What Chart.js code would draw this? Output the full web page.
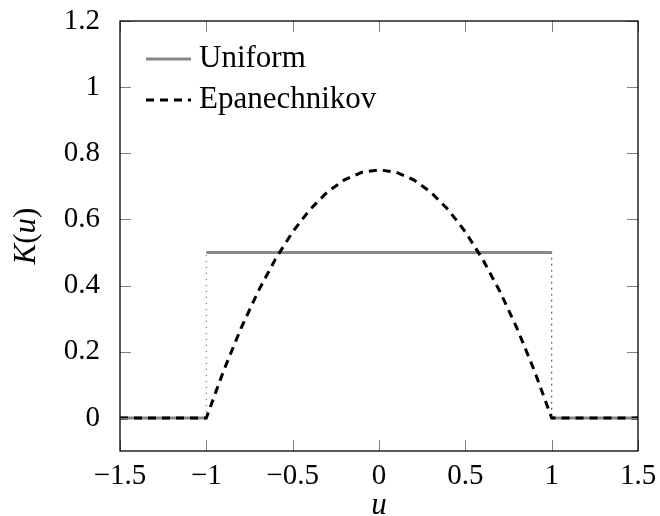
<!DOCTYPE html>
<html><head><meta charset="utf-8">
<script src="https://cdn.jsdelivr.net/npm/chart.js@4/dist/chart.umd.min.js"></script>
<style>html,body{margin:0;padding:0;background:#fff}</style>
</head><body>
<canvas id="c" width="660" height="516"></canvas>
<script>
// ---- data ----
const xTickValues = [-1.5, -1, -0.5, 0, 0.5, 1, 1.5];
const yTickValues = [0, 0.2, 0.4, 0.6, 0.8, 1, 1.2];
const seriesNames = ['Uniform', 'Epanechnikov'];
const uniformU = [-1.5, -1, -1, 1, 1, 1.5];
const uniformK = [0, 0, 0.5, 0.5, 0, 0];
const epanU = [-1.5, -1, -0.9, -0.8, -0.7, -0.6, -0.5, -0.4, -0.3, -0.2, -0.1, 0, 0.1, 0.2, 0.3, 0.4, 0.5, 0.6, 0.7, 0.8, 0.9, 1, 1.5];
const epanK = [0, 0, 0.1425, 0.27, 0.3825, 0.48, 0.5625, 0.63, 0.6825, 0.72, 0.7425, 0.75, 0.7425, 0.72, 0.6825, 0.63, 0.5625, 0.48, 0.3825, 0.27, 0.1425, 0, 0];

const SERIF = "'Liberation Serif', 'DejaVu Serif', serif";
const fmt = v => { const s = String(v); return v < 0 ? '\u2212' + s.slice(1) : s; };
const toPts = (xs, ys) => xs.map((x, i) => ({x, y: ys[i]}));

const framePlugin = {
  id: 'frame',
  afterDatasetsDraw(chart) {
    const {ctx, chartArea: a, scales: {x, y}} = chart;
    ctx.save();
    // inside ticks
    ctx.strokeStyle = '#808080';
    ctx.lineWidth = 1;
    const tl = 11;
    ctx.beginPath();
    x.ticks.forEach(t => {
      const px = Math.round(x.getPixelForValue(t.value)) + 0.5;
      ctx.moveTo(px, a.bottom); ctx.lineTo(px, a.bottom - tl);
      ctx.moveTo(px, a.top); ctx.lineTo(px, a.top + tl);
    });
    y.ticks.forEach(t => {
      const py = Math.round(y.getPixelForValue(t.value)) + 0.5;
      ctx.moveTo(a.left, py); ctx.lineTo(a.left + tl, py);
      ctx.moveTo(a.right, py); ctx.lineTo(a.right - tl, py);
    });
    ctx.stroke();
    // frame
    ctx.strokeStyle = '#000';
    ctx.lineWidth = 1.3;
    ctx.strokeRect(a.left, a.top, a.right - a.left, a.bottom - a.top);
    // legend inside plot
    const lx = a.left + 26, ly = a.top + 38, gap = 41;
    seriesNames.forEach((name, i) => {
      const d = chart.data.datasets.find(ds => ds.label === name);
      const yy = ly + i * gap;
      ctx.strokeStyle = d.borderColor;
      ctx.lineWidth = d.borderWidth;
      ctx.setLineDash(d.borderDash || []);
      ctx.beginPath(); ctx.moveTo(lx, yy); ctx.lineTo(lx + 45, yy); ctx.stroke();
      ctx.setLineDash([]);
      ctx.fillStyle = '#000';
      ctx.font = '31px ' + SERIF;
      ctx.textBaseline = 'alphabetic';
      ctx.textAlign = 'left';
      ctx.fillText(d.label, lx + 53, yy + 8);
    });
    // y axis title K(u) with italic K and u
    const parts = [['K', 'italic'], ['(', 'normal'], ['u', 'italic'], [')', 'normal']];
    let total = 0;
    parts.forEach(p => { ctx.font = p[1] + ' 31px ' + SERIF; p.push(ctx.measureText(p[0]).width); total += p[2]; });
    ctx.translate(35, (a.top + a.bottom) / 2);
    ctx.rotate(-Math.PI / 2);
    let cx = -total / 2;
    ctx.fillStyle = '#000';
    ctx.textBaseline = 'alphabetic';
    parts.forEach(p => { ctx.font = p[1] + ' 31px ' + SERIF; ctx.fillText(p[0], cx, 0); cx += p[2]; });
    ctx.restore();
  }
};

new Chart(document.getElementById('c'), {
  type: 'scatter',
  data: {
    datasets: [
      {
        label: 'Epanechnikov', data: toPts(epanU, epanK), showLine: true,
        borderColor: '#000', borderWidth: 3, borderDash: [8, 6], pointRadius: 0, tension: 0, order: 0
      },
      {
        label: 'Uniform', data: toPts(uniformU, uniformK), showLine: true,
        borderColor: '#888888', borderWidth: 3, pointRadius: 0, tension: 0, order: 1,
        segment: {
          borderWidth: c => c.p0.parsed.x === c.p1.parsed.x ? 1 : undefined,
          borderColor: c => c.p0.parsed.x === c.p1.parsed.x ? '#555555' : undefined,
          borderDash: c => c.p0.parsed.x === c.p1.parsed.x ? [1, 5] : undefined
        }
      }
    ]
  },
  options: {
    responsive: false, animation: false, devicePixelRatio: 1,
    layout: {padding: {top: 21, right: 22, left: 0, bottom: 0}},
    plugins: {legend: {display: false}, tooltip: {enabled: false}},
    scales: {
      x: {
        type: 'linear', min: -1.5, max: 1.5,
        afterBuildTicks: s => { s.ticks = xTickValues.map(v => ({value: v})); },
        afterFit: s => { s.height = 65; s.paddingLeft = 0; s.paddingRight = 0; },
        grid: {display: false}, border: {display: false},
        ticks: {callback: v => fmt(v), color: '#000', font: {family: SERIF, size: 29}, padding: 0, maxRotation: 0, autoSkip: false},
        title: {display: true, text: 'u', color: '#000', font: {family: SERIF, size: 31, style: 'italic', lineHeight: 1}, padding: {top: 0, bottom: -5}}
      },
      y: {
        type: 'linear', min: -0.1, max: 1.2,
        afterBuildTicks: s => { s.ticks = yTickValues.map(v => ({value: v})); },
        afterFit: s => { s.width = 120; s.paddingTop = 0; s.paddingBottom = 0; },
        grid: {display: false}, border: {display: false},
        ticks: {callback: v => fmt(v), color: '#000', font: {family: SERIF, size: 29}, padding: 12, autoSkip: false}
      }
    }
  },
  plugins: [framePlugin]
});
</script>
</body></html>
